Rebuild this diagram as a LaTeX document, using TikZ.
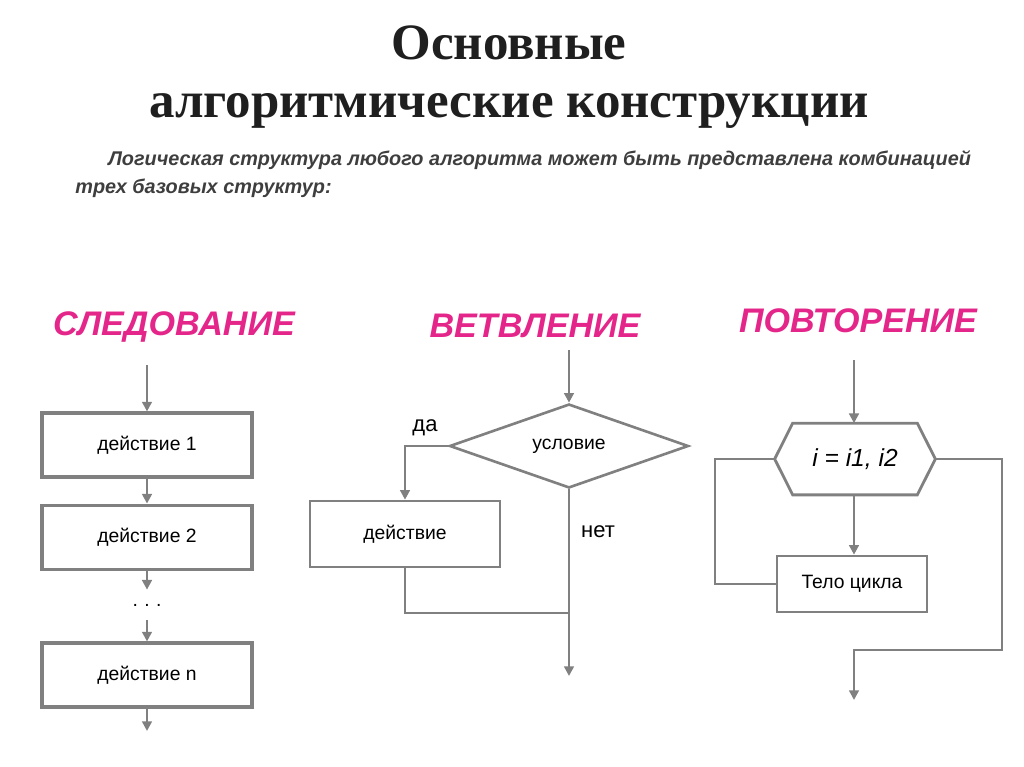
\documentclass[tikz,border=0pt]{standalone}
\usepackage{fontspec}
\setmainfont{Liberation Sans}
\newfontfamily\titlefont{Liberation Serif}
\usetikzlibrary{positioning,shapes.geometric,arrows.meta,calc}
\definecolor{linegray}{RGB}{128,128,128}
\definecolor{headpink}{RGB}{228,38,138}
\definecolor{notegray}{RGB}{62,62,62}

\begin{document}
\begin{tikzpicture}[x=0.02cm, y=-0.02cm,
    actbox/.style={rectangle, draw=linegray, line width=1.8pt, fill=white, minimum width=4.2cm, minimum height=1.28cm, font=\fontsize{11}{13}\selectfont},
    condnode/.style={diamond, draw=linegray, line width=1.5pt, minimum width=4.78cm, minimum height=1.68cm, aspect=2.85, inner sep=0, font=\fontsize{11}{13}\selectfont},
    flow/.style={draw=linegray, line width=1.6pt, -{Triangle[length=5.5pt,width=5.5pt]}},
    plainline/.style={draw=linegray, line width=1.6pt},
    heading/.style={text=headpink, font=\fontsize{19.4}{22}\selectfont\bfseries\itshape},
    labeltext/.style={font=\fontsize{12.5}{15}\selectfont},
    notetext/.style={text=notegray, anchor=base west, inner sep=0, font=\fontsize{11.3}{13}\selectfont\bfseries\itshape},
    ]
      \useasboundingbox (0,0) rectangle (1024,767);

      %Title
      \node      (title)  [align=center, text=black!88, font=\titlefont\fontsize{29}{33}\selectfont\bfseries] at (509,77) {Основные\\алгоритмические конструкции};
      \node      (note1)  [notetext] at (108,165) {Логическая структура любого алгоритма может быть представлена комбинацией};
      \node      (note2)  [notetext] at (75,193)  {трех базовых структур:};

      %Headings
      \node      (seqtitle)     [heading] at (174,327) {СЛЕДОВАНИЕ};
      \node      (branchtitle)  [heading] at (535,326) {ВЕТВЛЕНИЕ};
      \node      (looptitle)    [heading] at (858,321) {ПОВТОРЕНИЕ};

      %Nodes: sequence
      \coordinate (seqin)  at (147,365);
      \node      (act1)    [actbox] at (147,445)            {действие 1};
      \node      (act2)    [actbox, below=0.5cm of act1]    {действие 2};
      \node      (dots)    [minimum height=0.6cm, inner sep=0, font=\fontsize{11}{13}\selectfont] at (147,605) {.\,\,.\,\,.};
      \node      (actn)    [actbox] at (147,675)            {действие n};
      \coordinate (seqout) at (147,731);

      %Nodes: branching
      \coordinate (branchin) at (569,350);
      \node      (cond)    [condnode] at (569,446)          {условие};
      \node      (act)     [actbox, minimum width=3.8cm, minimum height=1.32cm, line width=1.5pt] at (405,534) {действие};
      \node      (yes)     [labeltext] at (425,428)         {да};
      \node      (no)      [labeltext] at (598,532)         {нет};
      \coordinate (merge)  at (569,613);
      \coordinate (branchout) at (569,676);

      %Nodes: loop
      \coordinate (loopin) at (854,360);
      \node      (head)    [minimum width=3.2cm, minimum height=1.42cm, font=\fontsize{14}{16}\selectfont] at (855,459) {\textit{i = i1, i2}};
      \node      (body)    [actbox, minimum width=3cm, minimum height=1.12cm, line width=1.5pt] at (852,584) {Тело цикла};
      \coordinate (back)   at (715,520);
      \coordinate (turn)   at (1002,650);
      \coordinate (loopout) at (854,700);

      \draw [draw=linegray, line width=1.6pt]
            ($(head.north west)+(18,0)$) -- ($(head.north east)+(-18,0)$) -- (head.east)
         -- ($(head.south east)+(-18,0)$) -- ($(head.south west)+(18,0)$) -- (head.west) -- cycle;

      %Lines
      \draw[flow] (seqin)  to (act1);
      \draw[flow] (act1)   to (act2);
      \draw[flow] (act2)   to (dots);
      \draw[flow] (dots)   to (actn);
      \draw[flow] (actn)   to (seqout);

      \draw[flow] (branchin)  to (cond);
      \draw[flow] (cond.west) -| (act.north);
      \draw[plainline] (act.south) |- (merge);
      \draw[flow] (cond.south) to (branchout);

      \draw[flow] (loopin) to (head.north -| loopin);
      \draw[flow] (head.south -| loopin) to (body.north -| loopin);
      \draw[plainline] (body.west) -| (back) |- (head.west);
      \draw[flow] (head.east) -| (turn) -| (loopout);
    \end{tikzpicture}
\end{document}
